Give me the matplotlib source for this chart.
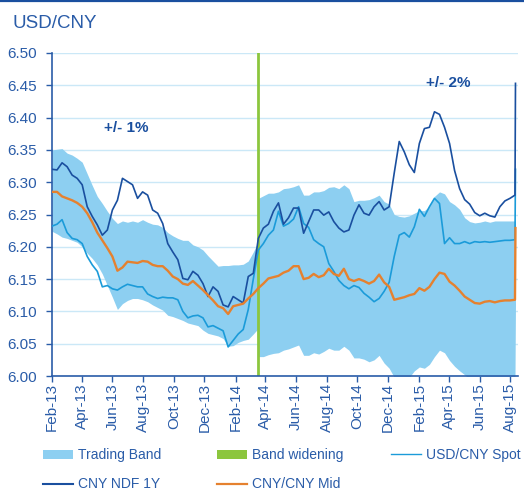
import matplotlib
matplotlib.use("Agg")
import matplotlib.pyplot as plt
from matplotlib.patches import Patch
from matplotlib.lines import Line2D
import pandas as pd
import numpy as np

plt.rcParams['font.family'] = ['Liberation Sans', 'DejaVu Sans']

# ---------------- data ----------------
# observations every 10 days from 2013-02-01, plus 2015-08-11 (devaluation day)
dates = pd.date_range('2013-02-01', periods=93, freq='10D').append(
    pd.DatetimeIndex(['2015-08-11']))

cny_mid = [6.285, 6.285, 6.278, 6.275, 6.272, 6.268, 6.262, 6.252, 6.238, 6.222,
           6.210, 6.198, 6.185, 6.163, 6.168, 6.177, 6.176, 6.175, 6.178, 6.177,
           6.172, 6.170, 6.170, 6.163, 6.154, 6.150, 6.143, 6.141, 6.147, 6.140,
           6.133, 6.125, 6.117, 6.108, 6.105, 6.096, 6.108, 6.110, 6.112, 6.120,
           6.127, 6.136, 6.143, 6.151, 6.153, 6.155, 6.160, 6.163, 6.170, 6.170,
           6.150, 6.152, 6.158, 6.153, 6.156, 6.166, 6.158, 6.155, 6.166, 6.150,
           6.147, 6.150, 6.147, 6.143, 6.147, 6.157, 6.145, 6.138, 6.118, 6.120,
           6.122, 6.125, 6.127, 6.136, 6.132, 6.138, 6.150, 6.160, 6.158, 6.146,
           6.140, 6.132, 6.123, 6.118, 6.113, 6.112, 6.115, 6.116, 6.114, 6.116,
           6.117, 6.117, 6.118, 6.229]

cny_ndf_1y = [6.320, 6.319, 6.330, 6.324, 6.311, 6.306, 6.296, 6.262, 6.247, 6.234,
              6.218, 6.226, 6.257, 6.272, 6.306, 6.301, 6.296, 6.275, 6.285, 6.280,
              6.257, 6.252, 6.236, 6.205, 6.192, 6.180, 6.151, 6.149, 6.162, 6.156,
              6.143, 6.123, 6.138, 6.131, 6.110, 6.107, 6.123, 6.118, 6.113, 6.154,
              6.159, 6.213, 6.229, 6.235, 6.255, 6.268, 6.235, 6.245, 6.260, 6.260,
              6.221, 6.239, 6.257, 6.257, 6.249, 6.254, 6.239, 6.229, 6.223, 6.226,
              6.249, 6.265, 6.252, 6.249, 6.262, 6.270, 6.257, 6.262, 6.314, 6.363,
              6.347, 6.327, 6.315, 6.360, 6.383, 6.385, 6.409, 6.405, 6.385, 6.360,
              6.318, 6.290, 6.273, 6.266, 6.253, 6.248, 6.252, 6.248, 6.246, 6.262,
              6.271, 6.275, 6.280, 6.453]

usd_cny_spot = [6.232, 6.235, 6.242, 6.222, 6.213, 6.211, 6.205, 6.185, 6.172, 6.162,
                6.138, 6.140, 6.135, 6.133, 6.138, 6.142, 6.140, 6.138, 6.138, 6.127,
                6.123, 6.120, 6.122, 6.121, 6.121, 6.118, 6.100, 6.090, 6.093, 6.094,
                6.090, 6.076, 6.078, 6.074, 6.070, 6.045, 6.055, 6.065, 6.072, 6.103,
                6.150, 6.195, 6.205, 6.218, 6.226, 6.255, 6.232, 6.236, 6.243, 6.262,
                6.236, 6.230, 6.211, 6.205, 6.200, 6.174, 6.162, 6.148, 6.140, 6.135,
                6.140, 6.137, 6.128, 6.122, 6.115, 6.120, 6.131, 6.145, 6.185, 6.218,
                6.222, 6.215, 6.231, 6.258, 6.247, 6.262, 6.275, 6.267, 6.205, 6.214,
                6.205, 6.205, 6.208, 6.205, 6.208, 6.207, 6.208, 6.207, 6.208, 6.209,
                6.210, 6.210, 6.211, 6.320]

# trading band (+/- 1% until 2014-03-17, +/- 2% afterwards)
widening_date = '2014-03-17'
band_dates = dates[:41].append(pd.DatetimeIndex(['2014-03-16', widening_date])).append(dates[41:])

band_upper = [6.350, 6.351, 6.352, 6.345, 6.342, 6.337, 6.331, 6.313, 6.295, 6.278,
              6.267, 6.255, 6.244, 6.236, 6.240, 6.238, 6.240, 6.238, 6.242, 6.238,
              6.235, 6.234, 6.230, 6.222, 6.217, 6.213, 6.210, 6.210, 6.203, 6.200,
              6.195, 6.186, 6.178, 6.170, 6.171, 6.171, 6.172, 6.172, 6.173, 6.178,
              6.192, 6.205,
              6.272,
              6.275, 6.279, 6.283, 6.283, 6.285, 6.290, 6.291, 6.293, 6.296,
              6.280, 6.280, 6.285, 6.285, 6.287, 6.292, 6.293, 6.290, 6.296, 6.290,
              6.270, 6.272, 6.272, 6.273, 6.276, 6.280, 6.270, 6.266, 6.250, 6.247,
              6.246, 6.248, 6.252, 6.256, 6.256, 6.263, 6.278, 6.285, 6.282, 6.270,
              6.265, 6.258, 6.245, 6.239, 6.237, 6.238, 6.240, 6.238, 6.240, 6.240,
              6.240, 6.240, 6.240, 6.240]

band_lower = [6.224, 6.220, 6.215, 6.213, 6.210, 6.207, 6.200, 6.190, 6.182, 6.172,
              6.158, 6.140, 6.122, 6.103, 6.112, 6.117, 6.120, 6.120, 6.118, 6.115,
              6.110, 6.106, 6.102, 6.094, 6.092, 6.089, 6.086, 6.082, 6.080, 6.078,
              6.071, 6.066, 6.064, 6.062, 6.058, 6.046, 6.047, 6.052, 6.055, 6.057,
              6.065, 6.072,
              6.028,
              6.030, 6.030, 6.033, 6.035, 6.036, 6.040, 6.042, 6.045, 6.048,
              6.032, 6.032, 6.036, 6.034, 6.038, 6.043, 6.040, 6.040, 6.046, 6.040,
              6.028, 6.028, 6.026, 6.022, 6.025, 6.032, 6.020, 6.012, 5.998, 5.996,
              5.996, 5.998, 6.008, 6.014, 6.012, 6.018, 6.030, 6.040, 6.036, 6.024,
              6.015, 6.008, 6.002, 5.995, 5.993, 5.993, 5.994, 5.994, 5.994, 5.995,
              5.995, 5.995, 5.995, 6.110]

y_ticks = [6.00, 6.05, 6.10, 6.15, 6.20, 6.25, 6.30, 6.35, 6.40, 6.45, 6.50]
x_tick_dates = pd.date_range('2013-02-01', '2015-08-01', freq='2MS')
x_tick_labels = [d.strftime('%b-%y') for d in x_tick_dates]

# ---------------- styling ----------------
C_BAND = '#8dcff1'
C_GREEN = '#8cc63e'
C_SPOT = '#1b9bd9'
C_NDF = '#1a4f9f'
C_MID = '#e5812f'
C_TEXT = '#2a5ca8'
C_AXIS = '#2a5ca8'
C_GRID = '#cbe8f7'

W, H = 524, 491
fig = plt.figure(figsize=(W / 100, H / 100), dpi=100)
ax = fig.add_axes([52 / W, 1 - 376 / H, 466 / W, 323 / H])

ax.fill_between(band_dates, band_lower, band_upper, color=C_BAND, lw=0, zorder=1)
ax.axvline(pd.Timestamp(widening_date), color=C_GREEN, lw=2.0, zorder=2)
ax.plot(dates, usd_cny_spot, color=C_SPOT, lw=1.2, zorder=3)
ax.plot(dates, cny_ndf_1y, color=C_NDF, lw=1.2, zorder=4)
ax.plot(dates, cny_mid, color=C_MID, lw=1.7, zorder=5)

ax.set_ylim(6.0, 6.5)
ax.set_yticks(y_ticks)
ax.set_yticklabels([f'{v:.2f}' for v in y_ticks])
ax.set_xlim(pd.Timestamp('2013-02-01'), pd.Timestamp('2015-08-16'))
ax.set_xticks(x_tick_dates)
ax.set_xticklabels(x_tick_labels, rotation=90)

ax.set_axisbelow(True)
ax.grid(axis='y', color=C_GRID, lw=1.0, zorder=0)
ax.grid(axis='x', visible=False)
for s in ['top', 'right']:
    ax.spines[s].set_visible(False)
for s in ['left', 'bottom']:
    ax.spines[s].set_color(C_AXIS)
    ax.spines[s].set_linewidth(1.2)
ax.tick_params(axis='y', direction='out', length=4, width=1, color=C_AXIS,
               labelcolor=C_TEXT, labelsize=11, pad=7)
ax.tick_params(axis='x', direction='out', length=4, width=1, color=C_AXIS,
               labelcolor=C_TEXT, labelsize=11, pad=1)

ax.text(pd.Timestamp('2013-06-29'), 6.384, '+/- 1%', ha='center', va='center',
        fontsize=11, fontweight='bold', color=C_NDF)
ax.text(pd.Timestamp('2015-03-31'), 6.453, '+/- 2%', ha='center', va='center',
        fontsize=11, fontweight='bold', color=C_NDF)

fig.text(13 / W, 1 - 28.5 / H, 'USD/CNY', ha='left', va='baseline',
         fontsize=13.5, color=C_TEXT)
fig.add_artist(Line2D([0, 1], [1 - 0.8 / H, 1 - 0.8 / H], transform=fig.transFigure,
                      color=C_NDF, lw=1.6))

# legend: three columns placed at the reference column positions
legend_columns = [
    ([Patch(facecolor=C_BAND, edgecolor='none'), Line2D([], [], color=C_NDF, lw=1.5)],
     ['Trading Band', 'CNY NDF 1Y'], 43),
    ([Patch(facecolor=C_GREEN, edgecolor='none'), Line2D([], [], color=C_MID, lw=1.6)],
     ['Band widening', 'CNY/CNY Mid'], 217),
    ([Line2D([], [], color=C_SPOT, lw=1.0)], ['USD/CNY Spot'], 391),
]
for hs, labs, x0 in legend_columns:
    leg = fig.legend(hs, labs, ncol=1, loc='upper left',
                     bbox_to_anchor=(x0 / W, 1 - 448 / H), frameon=False, fontsize=10,
                     handlelength=2.16, handleheight=0.62, handletextpad=0.36,
                     labelspacing=1.1, borderpad=0, borderaxespad=0)
    for t in leg.get_texts():
        t.set_color(C_TEXT)

fig.savefig('out.png', dpi=100)
